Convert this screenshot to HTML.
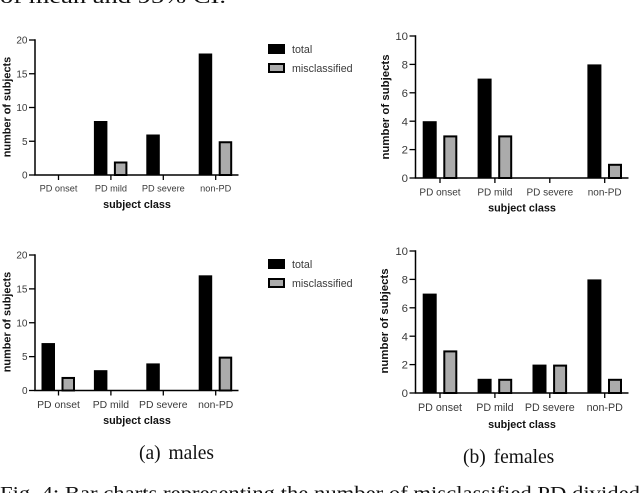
<!DOCTYPE html>
<html lang="en">
<head>
<meta charset="utf-8">
<title>Bar charts of misclassified PD subjects</title>
<style>
html,body{margin:0;padding:0;background:#fff;width:640px;height:493px;overflow:hidden}
svg{display:block}
.blur{filter:blur(0.35px)}
.tick{font-family:"Liberation Sans",sans-serif;fill:#3a3a3a}
.title{font-family:"Liberation Sans",sans-serif;font-weight:bold;fill:#111}
.serif{font-family:"Liberation Serif",serif;fill:#111}
</style>
</head>
<body>
<svg id="figure" xmlns="http://www.w3.org/2000/svg" width="640" height="493" viewBox="0 0 640 493">
  <g class="blur">
    <text class="serif" x="0" y="3" font-size="20.5" textLength="226" lengthAdjust="spacingAndGlyphs">of mean and 95% CI.</text>
    <text class="serif" x="139" y="459" font-size="19.5" word-spacing="3">(a) males</text>
    <text class="serif" x="463" y="463" font-size="19.5" word-spacing="3">(b) females</text>
    <text class="serif" x="0" y="500" font-size="20" textLength="640" lengthAdjust="spacingAndGlyphs">Fig. 4: Bar charts representing the number of misclassified PD divided</text>
  </g>
  <g class="blur" id="charts"></g>
</svg>
<script>
const categories = ['PD onset', 'PD mild', 'PD severe', 'non-PD'];
const seriesNames = ['total', 'misclassified'];
const malesTopTotal = [0, 8, 6, 18];
const malesTopMisclassified = [0, 2, 0, 5];
const femalesTopTotal = [4, 7, 0, 8];
const femalesTopMisclassified = [3, 3, 0, 1];
const malesBottomTotal = [7, 3, 4, 17];
const malesBottomMisclassified = [2, 0, 0, 5];
const femalesBottomTotal = [7, 1, 2, 8];
const femalesBottomMisclassified = [3, 1, 2, 1];
const malesTicks = [0, 5, 10, 15, 20];
const femalesTicks = [0, 2, 4, 6, 8, 10];

const NS = 'http://www.w3.org/2000/svg';
const root = document.getElementById('charts');

function make(parent, tag, attrs, text) {
  const el = document.createElementNS(NS, tag);
  for (const k in attrs) el.setAttribute(k, attrs[k]);
  if (text !== undefined) el.textContent = text;
  parent.appendChild(el);
  return el;
}

function drawPanel(p) {
  const g = make(root, 'g', {});
  
  

  const maxTick = p.ticks[p.ticks.length - 1];
  const yScale = v => p.y0 - (v / maxTick) * (p.y0 - p.yTop);
  const xScale = i => p.firstTick + i * p.step;

  // bars
  categories.forEach((cat, i) => {
    const cx = xScale(i);
    const t = p.total[i];
    if (t > 0) {
      const r = make(g, 'rect', {x: cx - p.gapOut, y: yScale(t), width: p.barW, height: p.y0 - yScale(t), fill: '#000'});
      
      
    }
    const m = p.mis[i];
    if (m > 0) {
      const r = make(g, 'rect', {x: cx + p.gapIn + 1, y: yScale(m) + 1, width: p.barW - 2, height: p.y0 - yScale(m) - 1, fill: '#ababab', stroke: '#000', 'stroke-width': 2});
      
      
    }
    const tick = make(g, 'line', {x1: cx, x2: cx, y1: p.y0, y2: p.y0 + 5, stroke: '#000', 'stroke-width': 1.3});
    
    
    const lab = make(g, 'text', {class: 'tick', x: cx, y: p.xLabelY, 'text-anchor': 'middle', 'font-size': p.xFont}, cat);
    
    
  });

  // axes
  const xAxis = make(g, 'line', {x1: p.axisX - 0.7, x2: p.axisEnd, y1: p.y0, y2: p.y0, stroke: '#000', 'stroke-width': 1.5});
  
  
  const yAxis = make(g, 'line', {x1: p.axisX, x2: p.axisX, y1: p.yTop - 0.7, y2: p.y0, stroke: '#000', 'stroke-width': 1.5});
  
  

  p.ticks.forEach(v => {
    const y = yScale(v);
    const t = make(g, 'line', {x1: p.axisX - 6, x2: p.axisX, y1: y, y2: y, stroke: '#000', 'stroke-width': 1.3});
    
    
    const l = make(g, 'text', {class: 'tick', x: p.axisX - 7.5, y: y + p.yFont * 0.36, 'text-anchor': 'end', 'font-size': p.yFont}, String(v));
    
    
  });

  // titles
  const xt = make(g, 'text', {class: 'title', x: p.xTitleX, y: p.xTitleY, 'text-anchor': 'middle', 'font-size': 10.8}, 'subject class');
  
  
  const yt = make(g, 'text', {class: 'title', transform: 'translate(' + p.yTitleX + ',' + p.yTitleY + ') rotate(-90)', 'text-anchor': 'middle', 'font-size': p.yTitleFont}, 'number of subjects');
  
  

  // legend
  if (p.legendY) {
    seriesNames.forEach((s, i) => {
      const ly = p.legendY[i];
      const sw = i === 0
        ? make(g, 'rect', {x: 268, y: ly, width: 17, height: 10, fill: '#000'})
        : make(g, 'rect', {x: 269, y: ly + 1, width: 15, height: 8, fill: '#ababab', stroke: '#000', 'stroke-width': 2});
      
      
      const tx = make(g, 'text', {class: 'tick', x: 292, y: ly + 9, 'font-size': 10.7}, s);
      
      
    });
  }
}

drawPanel({name: 'males-top', total: malesTopTotal, mis: malesTopMisclassified, ticks: malesTicks,
  axisX: 35, axisEnd: 238.5, y0: 175, yTop: 40, firstTick: 58.5, step: 52.4, barW: 13.5, gapOut: 17, gapIn: 3,
  xFont: 9.2, yFont: 10, xLabelY: 191.5, xTitleX: 137, xTitleY: 208, yTitleX: 10.5, yTitleY: 107, yTitleFont: 10.9, legendY: [44, 63]});
drawPanel({name: 'females-top', total: femalesTopTotal, mis: femalesTopMisclassified, ticks: femalesTicks,
  axisX: 415.5, axisEnd: 628.5, y0: 178, yTop: 36, firstTick: 440, step: 54.9, barW: 14, gapOut: 17.3, gapIn: 3.3,
  xFont: 10, yFont: 11.4, xLabelY: 195.5, xTitleX: 522, xTitleY: 211.5, yTitleX: 389, yTitleY: 107, yTitleFont: 11.4});
drawPanel({name: 'males-bottom', total: malesBottomTotal, mis: malesBottomMisclassified, ticks: malesTicks,
  axisX: 35, axisEnd: 238.5, y0: 390.5, yTop: 255, firstTick: 58.5, step: 52.4, barW: 13.5, gapOut: 17, gapIn: 3,
  xFont: 10.4, yFont: 10, xLabelY: 408, xTitleX: 137, xTitleY: 424, yTitleX: 10.5, yTitleY: 322, yTitleFont: 10.9, legendY: [259, 278]});
drawPanel({name: 'females-bottom', total: femalesBottomTotal, mis: femalesBottomMisclassified, ticks: femalesTicks,
  axisX: 415.5, axisEnd: 628.5, y0: 393, yTop: 251, firstTick: 440, step: 54.9, barW: 14, gapOut: 17.3, gapIn: 3.3,
  xFont: 10.7, yFont: 11.4, xLabelY: 411, xTitleX: 522, xTitleY: 428, yTitleX: 388, yTitleY: 321, yTitleFont: 11.4});
</script>
</body>
</html>
